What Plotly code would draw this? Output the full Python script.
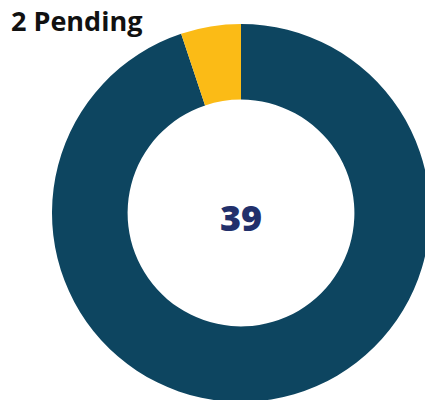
import plotly.graph_objects as go

labels = ["Completed", "Pending"]
values = [37, 2]
colors = ["#0d4560", "#fbbb16"]
title_text = "2 Pending"
center_text = "39"

fig = go.Figure(
    go.Pie(
        labels=labels,
        values=values,
        hole=0.6,
        sort=True,
        direction="clockwise",
        marker=dict(colors=colors, line=dict(width=0)),
        textinfo="none",
        hoverinfo="label+value",
        showlegend=False,
    )
)

W, H = 430, 402
fig.update_layout(
    width=W,
    height=H,
    margin=dict(l=52, r=0, t=24, b=0),
    paper_bgcolor="white",
    plot_bgcolor="white",
    title=dict(
        text=title_text,
        x=11 / W,
        xanchor="left",
        xref="container",
        y=1 - 22 / H,
        yanchor="middle",
        yref="container",
        font=dict(family="Open Sans", size=27, color="#111111", weight=700),
    ),
    annotations=[
        dict(
            text=center_text,
            x=0.5,
            y=0.5,
            xref="paper",
            yref="paper",
            showarrow=False,
            yshift=-4,
            font=dict(family="Open Sans", size=36, color="#22306b", weight=800),
        )
    ],
)

fig.write_html(
    "out.html",
    config={"displayModeBar": False},
    post_script=(
        "document.documentElement.style.overflow='hidden';"
        "document.body.style.overflow='hidden';"
        "document.body.style.margin='0';"
    ),
)
